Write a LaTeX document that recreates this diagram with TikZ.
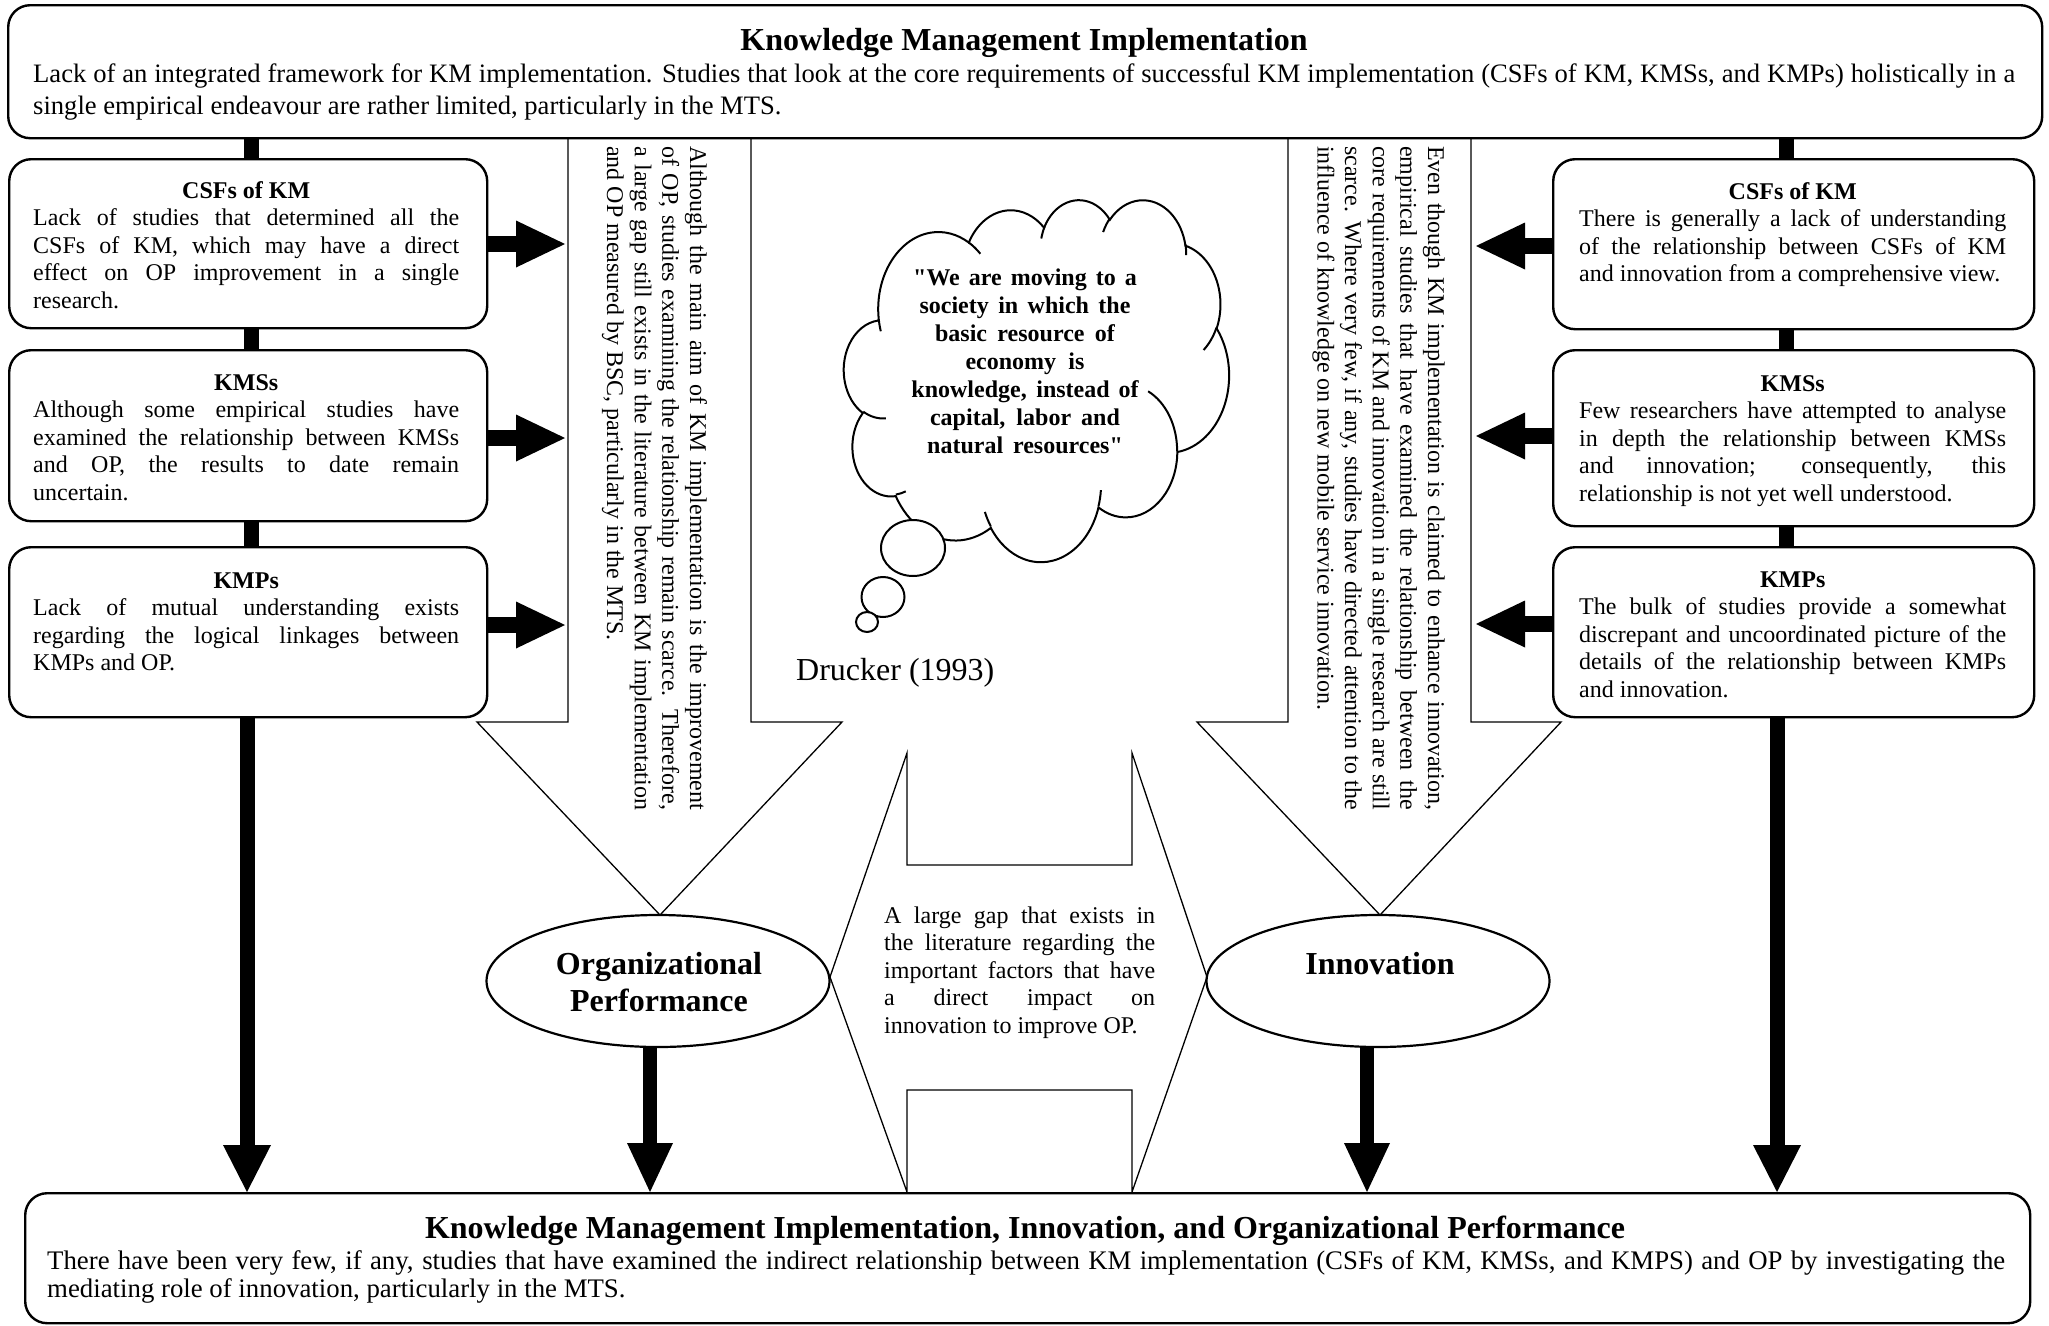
\documentclass[tikz,border=0pt]{standalone}
\usepackage{fontspec}
\setmainfont{Liberation Serif}
\usetikzlibrary{arrows.meta,shapes.geometric}

% one justified line of a paragraph
\newcommand\jl[1]{\makebox[\linewidth][s]{#1}}
\newcommand\setfs[2]{\fontsize{#1}{#2}\selectfont}
% use the font's own (stretchable) interword space inside aligned nodes
\newcommand\natsp{\spaceskip=0pt\xspaceskip=0pt\relax}

% lobe angles of the cloud outline: geometric angles -> parametric start/delta
\makeatletter
\newcommand\lobeangles[5]{%
  \pgfmathsetmacro\lb@s{atan2(#2*sin(#4),#3*cos(#4))}%
  \pgfmathsetmacro\lb@e{atan2(#2*sin(#4+#5),#3*cos(#4+#5))}%
  \pgfmathsetmacro\lb@d{\lb@e-\lb@s+360*(\lb@e<\lb@s)}%
  \expandafter\global\expandafter\let\csname ls#1\endcsname\lb@s
  \expandafter\global\expandafter\let\csname ld#1\endcsname\lb@d
}
\makeatother
\lobeangles{A}{6753}{9190}{-190.4875}{123.7805}
\lobeangles{B}{5333}{7267}{-144.1024}{89.9452}
\lobeangles{C}{4365}{5945}{-145.8079}{99.7230}
\lobeangles{D}{4857}{6595}{-130.9861}{117.2417}
\lobeangles{E}{5333}{7273}{-78.7089}{109.0269}
\lobeangles{F}{6775}{9220}{-46.2673}{130.2690}
\lobeangles{G}{5785}{7867}{0.6250}{114.0333}
\lobeangles{H}{6752}{9215}{22.4516}{115.1726}
\lobeangles{I}{7720}{10543}{66.2426}{75.7110}
\lobeangles{J}{4360}{5918}{-274.9421}{146.7356}
\lobeangles{K}{4345}{5945}{-246.8285}{152.5189}
% inner hint strokes
\lobeangles{ha}{4345}{5945}{86.7420}{26.4295}
\lobeangles{hb}{4360}{5918}{73.6105}{11.4475}
\lobeangles{hc}{6752}{9215}{137.6242}{14.0811}
\lobeangles{hd}{6752}{9215}{6.4533}{15.9984}
\lobeangles{he}{5785}{7867}{-70.2924}{70.9174}
\lobeangles{hf}{5333}{7273}{30.3180}{27.7515}
\lobeangles{hg}{4857}{6595}{-13.7443}{14.8589}
\lobeangles{hh}{4857}{6595}{-149.1815}{18.1954}
\lobeangles{hi}{4365}{5945}{-163.4943}{17.6864}
\lobeangles{hj}{6753}{9190}{-66.7070}{12.3194}
\lobeangles{hk}{6753}{9190}{157.6544}{11.8582}

\tikzset{
  outline/.style={draw, line width=2.4pt},
  panel/.style={outline, rounded corners=22pt, fill=white, inner sep=0pt},
  sidepanel/.style={panel, minimum width=478pt, anchor=north west},
  thinshape/.style={draw, line width=1.3pt, fill=white, line join=miter},
  oval/.style={draw, line width=2.2pt, fill=white, ellipse, inner sep=0pt},
  bubble/.style={draw, line width=2pt, fill=white, ellipse, inner sep=0pt},
  cloudline/.style={draw, line width=2pt},
  para/.style={inner sep=0pt, text width=#1, align=left, font=\setfs{24}{27.6}},
  rotpara/.style={para=#1, rotate=-90, anchor=base west},
  headline/.style={inner sep=0pt, font=\setfs{32}{37}\bfseries},
  bar/.style={line width=15pt},
  fatH/.style={line width=16pt, -{Triangle[width=47pt, length=49pt, line width=0pt]}},
  fatV/.style={line width=15pt, -{Triangle[width=48pt, length=47pt, line width=0pt]}},
  fatW/.style={line width=14pt, -{Triangle[width=46pt, length=49pt, line width=0pt]}},
}

\begin{document}
\begin{tikzpicture}[x=1pt, y=-1pt]
\useasboundingbox (0,0) rectangle (2049,1325);

% ---- block arrows and the central double-notched shape
\draw[thinshape] (568,137) -- (568,722) -- (477,722) -- (660,915) -- (842,722) -- (751,722) -- (751,137);
\draw[thinshape] (1288,137) -- (1288,722) -- (1197,722) -- (1380,915) -- (1561,722) -- (1471,722) -- (1471,137);
\draw[thinshape] (907,753) -- (907,865) -- (1132,865) -- (1132,753) -- (1207,977) -- (1132,1192)
  -- (1132,1090) -- (907,1090) -- (907,1192) -- (830,977) -- cycle;

% ---- ellipses
\node[oval, minimum width=343pt, minimum height=132pt] (op) at (658,981) {};
\node[oval, minimum width=343pt, minimum height=132pt] (inno) at (1378,981) {};

% ---- panels
\node[panel, anchor=north west, minimum width=2034pt, minimum height=133pt] (top) at (7,4) {};
\node[panel, anchor=north west, minimum width=2005pt, minimum height=130pt] (bot) at (24,1192) {};
\node[sidepanel, minimum height=169pt] (csfL) at (8,158) {};
\node[sidepanel, minimum height=171pt] (kmsL) at (8,349) {};
\node[sidepanel, minimum height=170pt] (kmpL) at (8,546) {};
\node[sidepanel, minimum width=481pt, minimum height=170pt] (csfR) at (1552,158) {};
\node[sidepanel, minimum width=481pt, minimum height=176pt] (kmsR) at (1552,349) {};
\node[sidepanel, minimum width=481pt, minimum height=170pt] (kmpR) at (1552,546) {};

% ---- reference points for connectors
\coordinate (cL) at (251,0);
\coordinate (cR) at (1786,0);
\coordinate (dL) at (247,0);
\coordinate (dR) at (1777,0);
\coordinate (dOP) at (650,0);
\coordinate (dIN) at (1367,0);
\coordinate (hL1) at (565,244);
\coordinate (hL2) at (565,438);
\coordinate (hL3) at (565,625);
\coordinate (hR1) at (1476,246);
\coordinate (hR2) at (1476,436);
\coordinate (hR3) at (1476,624);

% ---- thick connectors
\draw[bar] (top.south -| cL) -- (csfL.north -| cL);
\draw[bar] (csfL.south -| cL) -- (kmsL.north -| cL);
\draw[bar] (kmsL.south -| cL) -- (kmpL.north -| cL);
\draw[bar] (top.south -| cR) -- (csfR.north -| cR);
\draw[bar] (csfR.south -| cR) -- (kmsR.north -| cR);
\draw[bar] (kmsR.south -| cR) -- (kmpR.north -| cR);

\draw[fatV] (kmpL.south -| dL) -- (bot.north -| dL);
\draw[fatV] (kmpR.south -| dR) -- (bot.north -| dR);
\draw[fatW] (op.south -| dOP) -- (bot.north -| dOP);
\draw[fatW] (inno.south -| dIN) -- (bot.north -| dIN);

\draw[fatH] (csfL.east |- hL1) -- (hL1);
\draw[fatH] (kmsL.east |- hL2) -- (hL2);
\draw[fatH] (kmpL.east |- hL3) -- (hL3);
\draw[fatH] (csfR.west |- hR1) -- (hR1);
\draw[fatH] (kmsR.west |- hR2) -- (hR2);
\draw[fatH] (kmpR.west |- hR3) -- (hR3);

% ---- thought cloud
\begin{scope}[shift={(844,199)}, x=0.008912pt, y=-0.0083796pt]
\draw[cloudline, fill=white] (3900,14370)
  arc[start angle=\lsA, delta angle=\ldA, x radius=6753, y radius=9190]
  arc[start angle=\lsB, delta angle=\ldB, x radius=5333, y radius=7267]
  arc[start angle=\lsC, delta angle=\ldC, x radius=4365, y radius=5945]
  arc[start angle=\lsD, delta angle=\ldD, x radius=4857, y radius=6595]
  arc[start angle=\lsE, delta angle=\ldE, x radius=5333, y radius=7273]
  arc[start angle=\lsF, delta angle=\ldF, x radius=6775, y radius=9220]
  arc[start angle=\lsG, delta angle=\ldG, x radius=5785, y radius=7867]
  arc[start angle=\lsH, delta angle=\ldH, x radius=6752, y radius=9215]
  arc[start angle=\lsI, delta angle=\ldI, x radius=7720, y radius=10543]
  arc[start angle=\lsJ, delta angle=\ldJ, x radius=4360, y radius=5918]
  arc[start angle=\lsK, delta angle=\ldK, x radius=4345, y radius=5945]
  -- cycle;
\draw[cloudline]
  (4693,26177) arc[start angle=\lsha, delta angle=\ldha, x radius=4345, y radius=5945]
  (6928,34899) arc[start angle=\lshb, delta angle=\ldhb, x radius=4360, y radius=5918]
  (16478,39090) arc[start angle=\lshc, delta angle=\ldhc, x radius=6752, y radius=9215]
  (28827,34751) arc[start angle=\lshd, delta angle=\ldhd, x radius=6752, y radius=9215]
  (34129,22954) arc[start angle=\lshe, delta angle=\ldhe, x radius=5785, y radius=7867]
  (41798,15354) arc[start angle=\lshf, delta angle=\ldhf, x radius=5333, y radius=7273]
  (38324,5426) arc[start angle=\lshg, delta angle=\ldhg, x radius=4857, y radius=6595]
  (29078,3952) arc[start angle=\lshh, delta angle=\ldhh, x radius=4857, y radius=6595]
  (22141,4720) arc[start angle=\lshi, delta angle=\ldhi, x radius=4365, y radius=5945]
  (14000,5192) arc[start angle=\lshj, delta angle=\ldhj, x radius=6753, y radius=9190]
  (4127,15789) arc[start angle=\lshk, delta angle=\ldhk, x radius=6753, y radius=9190];
\end{scope}
\node[bubble, minimum width=64pt, minimum height=56pt] (bub1) at (913,548) {};
\node[bubble, minimum width=43pt, minimum height=40pt] (bub2) at (883,597) {};
\node[bubble, minimum width=22pt, minimum height=20pt] (bub3) at (867,622) {};

% ---- texts
\node[headline, anchor=base] (toptitle) at (1024,50) {Knowledge Management Implementation};
\node[para=1982pt, font=\setfs{26.6}{32}, anchor=base west] (topbody) at (33,82)
  {\natsp\jl{Lack of an integrated framework for KM implementation. Studies that look at the core requirements of successful KM implementation (CSFs of KM, KMSs, and KMPs) holistically in a}\\
   single empirical endeavour are rather limited, particularly in the MTS.};

\node[headline, anchor=base] (bottitle) at (1025,1238) {Knowledge Management Implementation, Innovation, and Organizational Performance};
\node[para=1958pt, font=\setfs{26.8}{28.5}, anchor=base west] (botbody) at (47,1269)
  {\natsp\jl{There have been very few, if any, studies that have examined the indirect relationship between KM implementation (CSFs of KM, KMSs, and KMPS) and OP by investigating the}\\
   mediating role of innovation, particularly in the MTS.};

\node[para=426pt, anchor=base west] (csfLtext) at (33,198)
  {\natsp\makebox[\linewidth]{\bfseries CSFs of KM}\\
   \jl{Lack of studies that determined all the}\\
   \jl{CSFs of KM, which may have a direct}\\
   \jl{effect on OP improvement in a single}\\
   research.};
\node[para=426pt, anchor=base west] (kmsLtext) at (33,390)
  {\natsp\makebox[\linewidth]{\bfseries KMSs}\\
   \jl{Although some empirical studies have}\\
   \jl{examined the relationship between KMSs}\\
   \jl{and OP, the results to date remain}\\
   uncertain.};
\node[para=426pt, anchor=base west] (kmpLtext) at (33,588)
  {\natsp\makebox[\linewidth]{\bfseries KMPs}\\
   \jl{Lack of mutual understanding exists}\\
   \jl{regarding the logical linkages between}\\
   KMPs and OP.};

\node[para=427pt, anchor=base west] (csfRtext) at (1579,199)
  {\natsp\makebox[\linewidth]{\bfseries CSFs of KM}\\
   \jl{There is generally a lack of understanding}\\
   \jl{of the relationship between CSFs of KM}\\
   and innovation from a comprehensive view.};
\node[para=427pt, anchor=base west] (kmsRtext) at (1579,391)
  {\natsp\makebox[\linewidth]{\bfseries KMSs}\\
   \jl{Few researchers have attempted to analyse}\\
   \jl{in depth the relationship between KMSs}\\
   \jl{and innovation; consequently, this}\\
   relationship is not yet well understood.};
\node[para=427pt, anchor=base west] (kmpRtext) at (1579,587)
  {\natsp\makebox[\linewidth]{\bfseries KMPs}\\
   \jl{The bulk of studies provide a somewhat}\\
   \jl{discrepant and uncoordinated picture of the}\\
   \jl{details of the relationship between KMPs}\\
   and innovation.};

\node[rotpara=664pt] (colL) at (690,146)
  {\natsp\jl{Although the main aim of KM implementation is the improvement}\\
   \jl{of OP, studies examining the relationship remain scarce. Therefore,}\\
   \jl{a large gap still exists in the literature between KM implementation}\\
   and OP measured by BSC, particularly in the MTS.};
\node[rotpara=664pt] (colR) at (1428,146)
  {\natsp\jl{Even though KM implementation is claimed to enhance innovation,}\\
   \jl{empirical studies that have examined the relationship between the}\\
   \jl{core requirements of KM and innovation in a single research are still}\\
   \jl{scarce. Where very few, if any, studies have directed attention to the}\\
   influence of knowledge on new mobile service innovation.};

\node[para=271pt, anchor=base west] (gaptext) at (884,923)
  {\natsp\jl{A large gap that exists in}\\
   \jl{the literature regarding the}\\
   \jl{important factors that have}\\
   \jl{a direct impact on}\\
   innovation to improve OP.};

\node[inner sep=0pt, text width=320pt, align=center, font=\setfs{24}{28}\bfseries, anchor=base] (quote) at (1025,285)
  {\natsp\textquotedbl We are moving to a\\ society in which the\\ basic resource of\\ economy is\\ knowledge, instead of\\ capital, labor and\\ natural resources\textquotedbl};
\node[inner sep=0pt, font=\setfs{32}{36}, anchor=base west] (drucker) at (796,680) {Drucker (1993)};

\node[headline, text width=300pt, align=center, anchor=base] (oplabel) at (659,974) {Organizational\\ Performance};
\node[headline, anchor=base] (innolabel) at (1380,974) {Innovation};

\end{tikzpicture}
\end{document}
